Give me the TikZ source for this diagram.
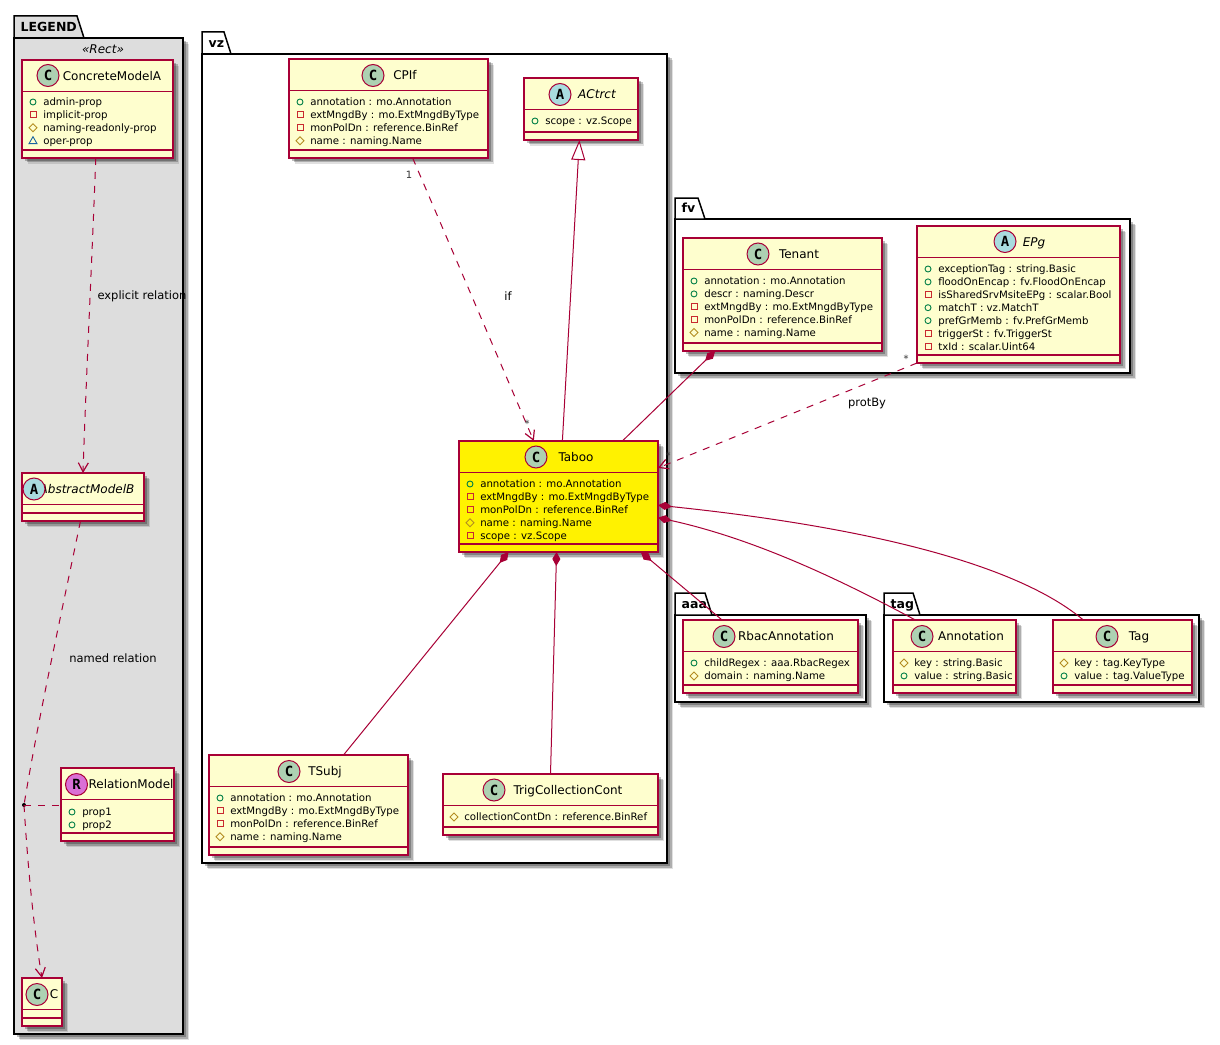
\documentclass[tikz,border=0pt]{standalone}
\usepackage{fontspec}
\setmainfont{DejaVu Sans}
\newfontfamily\letterfont{DejaVu Sans Mono}
\usetikzlibrary{arrows.meta, positioning, calc, shadows}

\definecolor{umlborder}{HTML}{A80036}
\definecolor{umlfill}{HTML}{FEFECE}
\definecolor{pkggray}{HTML}{DDDDDD}
\definecolor{circC}{HTML}{ADD1B2}
\definecolor{circA}{HTML}{A9DCDF}
\definecolor{circR}{HTML}{DA70D6}
\definecolor{pubcol}{HTML}{038048}
\definecolor{privcol}{HTML}{C82930}
\definecolor{protcol}{HTML}{B38D22}
\definecolor{packcol}{HTML}{1963A0}

\newlength{\px}
\setlength{\px}{0.75pt}

\tikzset{
    softshadow/.style={
        drop shadow={shadow xshift=6\px, shadow yshift=-6\px, fill=black, opacity=.12},
        drop shadow={shadow xshift=4.5\px, shadow yshift=-4.5\px, fill=black, opacity=.22},
        drop shadow={shadow xshift=3\px, shadow yshift=-3\px, fill=black, opacity=.25}},
    classbox/.style={draw=umlborder, fill=umlfill, line width=1.5\px, outer sep=0pt, inner sep=0pt, softshadow},
    pkgbox/.style={draw=black, line width=1.5\px, outer sep=0pt, inner sep=0pt, softshadow},
    pkgtab/.style={draw=black, line width=1.5\px},
    pkgname/.style={font=\fontsize{12.5\px}{14\px}\selectfont\bfseries, anchor=base west},
    classname/.style={font=\fontsize{12\px}{14\px}\selectfont, anchor=base},
    member/.style={font=\fontsize{10.2\px}{12\px}\selectfont, anchor=base west, inner sep=0pt},
    rellabel/.style={font=\fontsize{11.5\px}{14\px}\selectfont},
    multi/.style={font=\fontsize{10\px}{12\px}\selectfont, text=black!80},
    rel/.style={draw=umlborder, line width=1\px},
    dashrel/.style={rel, dash pattern=on 5.25pt off 5.25pt},
    usearrow/.style={-{Straight Barb[length=6.75pt, width=7.5pt, line width=0.9pt]}},
    comparrow/.style={{Diamond[length=10.5pt, width=6pt, fill=umlborder]}-},
    inhertarrow/.style={{Triangle[length=15pt, width=10.5pt, fill=white]}-}
}

% package: fill, name, x1, y1 (tab top), y2 (body top), x2, y3, tab right, label
\newcommand{\umlpackage}[9][white]{
    \pgfmathsetlengthmacro{\boxw}{(#6-#3)*\px}
    \pgfmathsetlengthmacro{\boxh}{(#7-#5)*\px}
    \node[pkgbox, fill=#1, minimum width=\boxw, minimum height=\boxh] (#2) at ({(#3+#6)/2}, {(#5+#7)/2}) {};
    \draw[pkgtab, fill=#1] (#3, #5) -- (#3, #4) -- (#8, #4) -- ({#8+7}, #5) -- cycle;
    \node[pkgname] (#2-name) at ({#3+2}, {#5-6.5}) {#9};
}

% class: fill, name, title, x1, y1, x2, y2, title x
\newcommand{\umlclass}[8][umlfill]{
    \pgfmathsetlengthmacro{\boxw}{(#6-#4)*\px}
    \pgfmathsetlengthmacro{\boxh}{(#7-#5)*\px}
    \node[classbox, fill=#1, minimum width=\boxw, minimum height=\boxh] (#2) at ({(#4+#6)/2}, {(#5+#7)/2}) {};
    \draw[umlborder, line width=1.5\px] (#4, {#5+31.5}) -- (#6, {#5+31.5});
    \draw[umlborder, line width=1.5\px] (#4, {#7-8}) -- (#6, {#7-8});
    \node[classname] (#2-title) at (#8, {#5+20.5}) {#3};
}

\newcommand{\umlmark}[4]{
    \node[circle, draw=umlborder, fill=#3, line width=1\px, minimum size=22\px, inner sep=0pt] (#1-mark) at (#2) {\letterfont\bfseries\fontsize{14\px}{14\px}\selectfont #4};
}

% members of a class, one line each
\newcommand{\umlmembers}[4]{
    \foreach \kind/\txt [count=\i from 0] in {#4} {
        \pgfmathsetmacro{\liney}{#3+43+12.9*\i}
        \node[member] (#1-m\i) at ({#2+21}, {\liney+3.7}) {\txt};
        \if\kind o
            \draw[pubcol, line width=.9\px] ({#2+11}, \liney) circle (3\px);
        \fi
        \if\kind s
            \draw[privcol, line width=.9\px] ({#2+8}, {\liney-3}) rectangle ({#2+14}, {\liney+3});
        \fi
        \if\kind d
            \draw[protcol, line width=.9\px] ({#2+7}, \liney) -- ({#2+11}, {\liney-4}) -- ({#2+15}, \liney) -- ({#2+11}, {\liney+4}) -- cycle;
        \fi
        \if\kind t
            \draw[packcol, line width=.9\px] ({#2+7}, {\liney+3}) -- ({#2+11}, {\liney-4}) -- ({#2+15}, {\liney+3}) -- cycle;
        \fi
    }
}

\begin{document}
\begin{tikzpicture}[x=0.75pt, y=-0.75pt]
    \useasboundingbox (0, 0) rectangle (1220, 1045);
    \fill[white] (0, 0) rectangle (1220, 1045);

    % Packages
    \umlpackage[pkggray]{legend}{14}{16}{38}{183}{1034}{77}{LEGEND}
    \umlpackage{vz}{202}{32}{54}{667}{863}{224}{vz}
    \umlpackage{fv}{675}{198}{219}{1130}{373}{698}{fv}
    \umlpackage{aaa}{675}{593}{615}{866}{702}{705}{aaa}
    \umlpackage{tag}{884}{593}{615}{1199}{702}{913}{tag}

    % Legend classes
    \node[font=\itshape\fontsize{12\px}{14\px}\selectfont] (stereo) at (103, 49) {«Rect»};
    \umlclass{concrete}{ConcreteModelA}{22}{60}{173}{158}{112}
    \umlmark{concrete}{48, 75.5}{circC}{C}
    \umlmembers{concrete}{22}{59}{o/admin-prop, s/implicit-prop, d/naming-readonly-prop, t/oper-prop}

    \umlclass{abstractb}{\itshape AbstractModelB}{22}{473}{144}{521}{87}
    \umlmark{abstractb}{34, 489}{circA}{A}

    \umlclass{relation}{RelationModel}{61}{768}{174}{841}{131}
    \umlmark{relation}{76.5, 784.5}{circR}{R}
    \umlmembers{relation}{61}{769}{o/prop1, o/prop2}

    \umlclass{cclass}{C}{22}{978}{62}{1026}{54}
    \umlmark{cclass}{37, 994.5}{circC}{C}

    % vz classes
    \umlclass{cpif}{CPIf}{289}{59}{488}{158}{405}
    \umlmark{cpif}{373, 75.5}{circC}{C}
    \umlmembers{cpif}{289}{59}{o/annotation : mo.Annotation, s/extMngdBy : mo.ExtMngdByType, s/monPolDn : reference.BinRef, d/name : naming.Name}

    \umlclass{actrct}{\itshape ACtrct}{524}{78}{638}{140}{597}
    \umlmark{actrct}{560, 94.5}{circA}{A}
    \umlmembers{actrct}{524}{78}{o/scope : vz.Scope}

    \umlclass[yellow]{taboo}{Taboo}{459}{441}{658}{552}{576}
    \umlmark{taboo}{536, 457}{circC}{C}
    \umlmembers{taboo}{459}{441}{o/annotation : mo.Annotation, s/extMngdBy : mo.ExtMngdByType, s/monPolDn : reference.BinRef, d/name : naming.Name, s/scope : vz.Scope}

    \umlclass{tsubj}{TSubj}{209}{755}{408}{855}{325}
    \umlmark{tsubj}{289, 771.5}{circC}{C}
    \umlmembers{tsubj}{209}{755}{o/annotation : mo.Annotation, s/extMngdBy : mo.ExtMngdByType, s/monPolDn : reference.BinRef, d/name : naming.Name}

    \umlclass{trig}{TrigCollectionCont}{443}{774}{658}{835}{568}
    \umlmark{trig}{494, 790}{circC}{C}
    \umlmembers{trig}{443}{774}{d/collectionContDn : reference.BinRef}

    % fv classes
    \umlclass{tenant}{Tenant}{683}{238}{882}{351}{799}
    \umlmark{tenant}{758, 254}{circC}{C}
    \umlmembers{tenant}{683}{238}{o/annotation : mo.Annotation, o/descr : naming.Descr, s/extMngdBy : mo.ExtMngdByType, s/monPolDn : reference.BinRef, d/name : naming.Name}

    \umlclass{epg}{\itshape EPg}{917}{226}{1120}{363}{1034}
    \umlmark{epg}{1005, 241.5}{circA}{A}
    \umlmembers{epg}{917}{226}{o/exceptionTag : string.Basic, o/floodOnEncap : fv.FloodOnEncap, s/isSharedSrvMsiteEPg : scalar.Bool, o/matchT : vz.MatchT, o/prefGrMemb : fv.PrefGrMemb, s/triggerSt : fv.TriggerSt, s/txId : scalar.Uint64}

    % aaa and tag classes
    \umlclass{rbac}{RbacAnnotation}{683}{620}{858}{693}{786}
    \umlmark{rbac}{724, 636.5}{circC}{C}
    \umlmembers{rbac}{683}{620}{o/childRegex : aaa.RbacRegex, d/domain : naming.Name}

    \umlclass{annot}{Annotation}{893}{620}{1016}{693}{971}
    \umlmark{annot}{922, 636.5}{circC}{C}
    \umlmembers{annot}{893}{620}{d/key : string.Basic, o/value : string.Basic}

    \umlclass{tagc}{Tag}{1053}{620}{1192}{693}{1139}
    \umlmark{tagc}{1107, 636.5}{circC}{C}
    \umlmembers{tagc}{1053}{620}{d/key : tag.KeyType, o/value : tag.ValueType}

    % Legend relations
    \node[circle, fill=black, minimum size=4\px, inner sep=0pt] (reldot) at (24, 805) {};
    \draw[dashrel, usearrow] (concrete.-92) .. controls (92, 260) and (86, 380) .. (abstractb.north);
    \draw[dashrel] (abstractb.-96) .. controls (60, 620) and (38, 720) .. (reldot.center);
    \draw[dashrel, usearrow] (reldot.center) .. controls (28, 870) and (34, 930) .. (cclass.90);
    \draw[dashrel] (reldot.center) -- (relation.west |- reldot.center);
    \node[rellabel] (explicitlabel) at (142, 296) {explicit relation};
    \node[rellabel] (namedlabel) at (113, 658) {named relation};

    % vz relations
    \draw[dashrel, usearrow] (cpif.-64) -- (taboo.114.7);
    \draw[rel, inhertarrow] (actrct.-93.7) -- (taboo.86.4);
    \draw[rel, comparrow] (taboo.228.9) -- (tsubj.55);
    \draw[rel, comparrow] (taboo.-92.6) -- (trig.north);
    \node[rellabel] (iflabel) at (508, 296) {if};
    \node[multi] (cpifone) at (409, 175) {1};
    \node[multi] (tabooone) at (527, 424) {*};

    % relations that leave the package
    \draw[rel, comparrow] (tenant.220.3) -- (taboo.41.6);
    \draw[dashrel, usearrow] (epg.south west) -- (taboo.16.8);
    \draw[rel, comparrow] (taboo.-34.9) -- (rbac.143.6);
    \draw[rel, comparrow] (taboo.-12.7) .. controls (760, 540) and (850, 585) .. (annot.137);
    \draw[rel, comparrow] (taboo.-5.5) .. controls (800, 520) and (1000, 550) .. (tagc.137);
    \node[rellabel] (protbylabel) at (867, 404) {protBy};
    \node[multi] (epgstar) at (906, 359) {*};
    \node[multi] (taboostar) at (668, 456) {*};
\end{tikzpicture}
\end{document}
